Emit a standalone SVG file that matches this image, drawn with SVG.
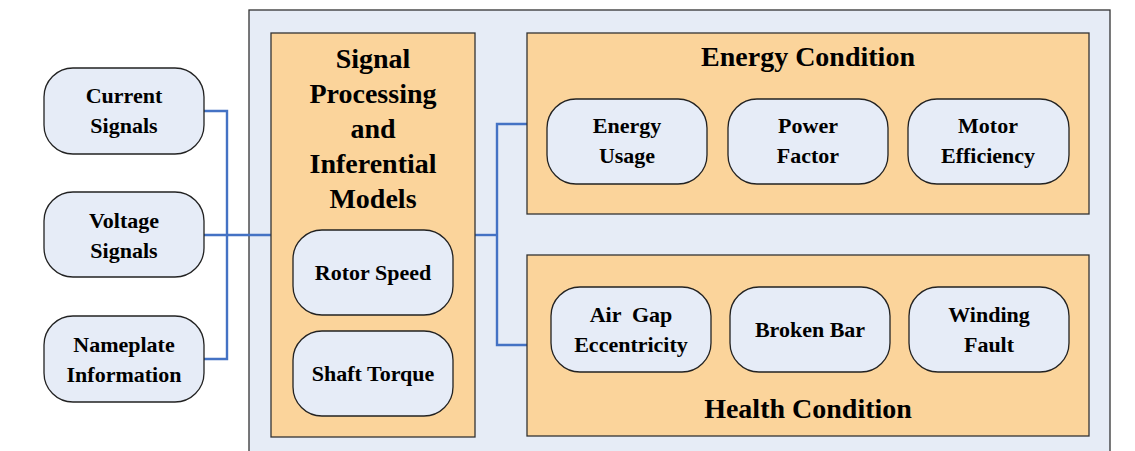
<svg xmlns="http://www.w3.org/2000/svg" width="1135" height="451" viewBox="0 0 1135 451">
<style>
.cont{fill:#E6ECF6;stroke:#333;stroke-width:1.3}
.box{fill:#FBD49B;stroke:#333;stroke-width:1.3}
.node{fill:#E6ECF7;stroke:#222;stroke-width:1.3}
.c{fill:none;stroke:#4472C4;stroke-width:2.4}
</style>
<rect width="1135" height="451" fill="#fff"/>
<g id="container"><rect class="cont" x="249" y="10" width="861" height="450"/></g>
<g id="connectors">
<polyline class="c" points="204,111 227,111 227,359 204,359"/>
<line class="c" x1="204" y1="235" x2="272" y2="235"/>
<line class="c" x1="475" y1="235" x2="497" y2="235"/>
<polyline class="c" points="527,124 497,124 497,345 527,345"/>
</g>
<g font-family="Liberation Serif, Times New Roman, serif" font-weight="bold" font-size="22" fill="#000" text-anchor="middle">
<g id="current"><rect class="node" x="44" y="68" width="160" height="86" rx="29"/><text x="124" y="103">Current</text><text x="124" y="133">Signals</text></g>
<g id="voltage"><rect class="node" x="44" y="192" width="160" height="85" rx="29"/><text x="124" y="228">Voltage</text><text x="124" y="258">Signals</text></g>
<g id="nameplate"><rect class="node" x="44" y="316" width="160" height="86" rx="29"/><text x="124" y="352">Nameplate</text><text x="124" y="382">Information</text></g>
<g id="processing"><rect class="box" x="271" y="33" width="204" height="404"/>
<g font-size="28"><text x="373" y="68">Signal</text><text x="373" y="103">Processing</text><text x="373" y="138">and</text><text x="373" y="173">Inferential</text><text x="373" y="208">Models</text></g></g>
<g id="rotor"><rect class="node" x="293" y="230" width="160" height="85" rx="29"/><text x="373" y="280">Rotor Speed</text></g>
<g id="torque"><rect class="node" x="293" y="331" width="160" height="85" rx="29"/><text x="373" y="381">Shaft Torque</text></g>
<g id="energy"><rect class="box" x="527" y="33" width="562" height="181"/><text font-size="28" x="808" y="66">Energy Condition</text></g>
<g id="usage"><rect class="node" x="547" y="99" width="160" height="85" rx="29"/><text x="627" y="133">Energy</text><text x="627" y="163">Usage</text></g>
<g id="power"><rect class="node" x="728" y="99" width="160" height="85" rx="29"/><text x="808" y="133">Power</text><text x="808" y="163">Factor</text></g>
<g id="efficiency"><rect class="node" x="908" y="99" width="161" height="85" rx="29"/><text x="988" y="133">Motor</text><text x="988" y="163">Efficiency</text></g>
<g id="health"><rect class="box" x="527" y="255" width="562" height="181"/><text font-size="28" x="808" y="418">Health Condition</text></g>
<g id="airgap"><rect class="node" x="551" y="287" width="160" height="85" rx="29"/><text x="631" y="322" xml:space="preserve">Air  Gap</text><text x="631" y="352">Eccentricity</text></g>
<g id="brokenbar"><rect class="node" x="730" y="287" width="160" height="85" rx="29"/><text x="810" y="337">Broken Bar</text></g>
<g id="winding"><rect class="node" x="909" y="287" width="160" height="85" rx="29"/><text x="989" y="322">Winding</text><text x="989" y="352">Fault</text></g>
</g>
</svg>
